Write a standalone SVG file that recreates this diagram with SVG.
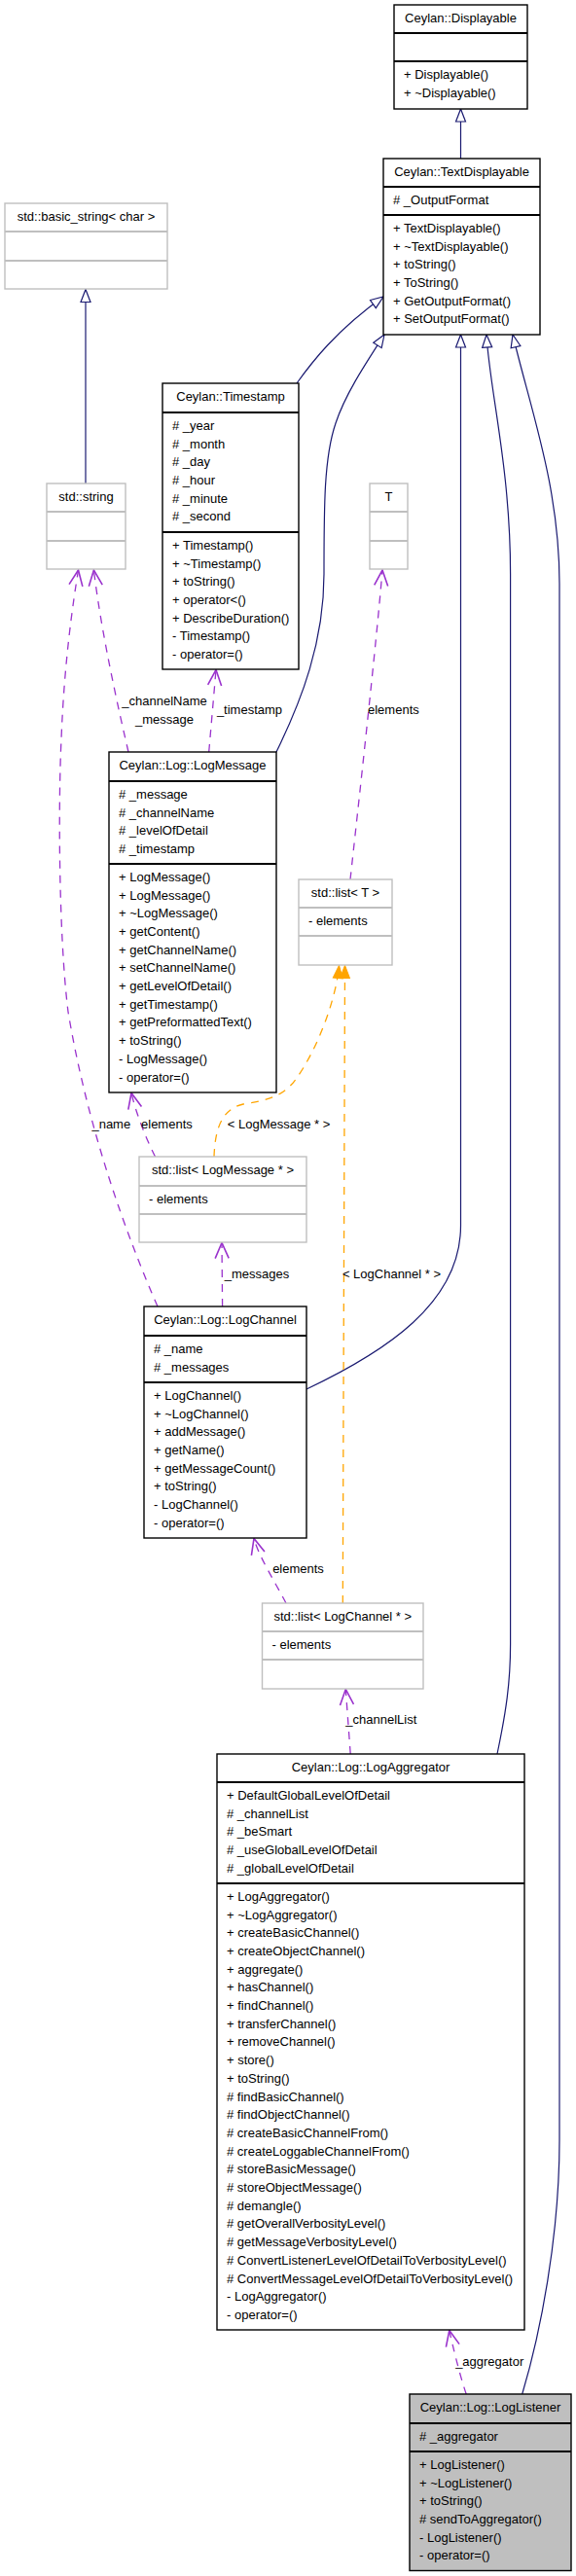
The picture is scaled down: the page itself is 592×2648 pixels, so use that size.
<svg xmlns="http://www.w3.org/2000/svg" width="592" height="2648" viewBox="0 0 592 2648">
<style>
text{font-family:"Liberation Sans",Arial,Helvetica,sans-serif;font-size:13px;fill:#000}
.t{text-anchor:middle}
.box{fill:#fff;stroke:#000;stroke-width:1.4}
.gbox{fill:#fff;stroke:#bfbfbf;stroke-width:1.4}
.fbox{fill:#bfbfbf;stroke:#000;stroke-width:1.4}
.dv{stroke:#000;stroke-width:1.8}
.gdv{stroke:#bfbfbf;stroke-width:1.8}
.inh{fill:none;stroke:#191970;stroke-width:1.2;marker-end:url(#tri)}
.use{fill:none;stroke:#9a32cd;stroke-width:1.3;stroke-dasharray:8,7;marker-end:url(#open)}
.tpl{fill:none;stroke:#ffa500;stroke-width:1.3;stroke-dasharray:8,7;marker-end:url(#filled)}
</style>
<defs>
<marker id="tri" markerUnits="userSpaceOnUse" markerWidth="16" markerHeight="14" refX="13" refY="6" orient="auto" overflow="visible"><path d="M0,1 L13,6 L0,11 Z" fill="#fff" stroke="#191970" stroke-width="1.2"/></marker>
<marker id="open" markerUnits="userSpaceOnUse" markerWidth="18" markerHeight="18" refX="16" refY="7" orient="auto" overflow="visible"><path d="M0,0 L16,7 L0,14" fill="none" stroke="#9a32cd" stroke-width="1.6"/></marker>
<marker id="filled" markerUnits="userSpaceOnUse" markerWidth="16" markerHeight="14" refX="13" refY="5" orient="auto" overflow="visible"><path d="M0,0 L13,5 L0,10 Z" fill="#ffa500" stroke="#ffa500" stroke-width="1"/></marker>
</defs>
<rect width="592" height="2648" fill="#fff"/>

<g id="connectors">
<path class="inh" d="M473.5,163 L473.5,112"/>
<path class="inh" d="M88,497 L88,297.5"/>
<path class="inh" d="M305,394 C320,373 345,340 394,305"/>
<path class="inh" d="M284,773 C310,720 333,660 333,590 C333,520 333,470 345,435 C355,405 375,375 395,344"/>
<path class="inh" d="M315,1428 C395,1390 473.5,1340 473.5,1260 L473.5,344"/>
<path class="inh" d="M511,1803 C520,1760 524.6,1730 524.6,1690 L524.6,590 C524.6,480 503,400 500,344"/>
<path class="inh" d="M536.7,2461 C555,2400 575,2300 575,2200 L575,600 C575,500 545,420 527,344"/>
<path class="use" d="M360,904 C367,840 387,660 393,586"/>
<path class="use" d="M132,773 C122,730 104,650 96.4,586"/>
<path class="use" d="M214.7,773 L222,688.5"/>
<path class="use" d="M162,1343 C130,1270 90,1160 70,1040 C60,960 60,820 63,760 C66,680 75,620 80.5,586"/>
<path class="use" d="M159.5,1189 C150,1170 140,1145 135,1123.5"/>
<path class="use" d="M228.6,1343 L228,1277.5"/>
<path class="use" d="M294,1648 C282,1625 266,1600 261,1581.5"/>
<path class="use" d="M360.2,1803 L355.3,1736.5"/>
<path class="use" d="M479.2,2461 C472,2440 465,2410 461.8,2395.5"/>
<path class="tpl" d="M220,1189 C221,1160 228,1140 250,1135 C275,1131 292,1127 305,1108 C325,1080 345,1030 348.5,992.5"/>
<path class="tpl" d="M352.3,1648 L354.5,992.5"/>
<text x="378" y="733.5">elements</text>
<text class="t" x="169" y="724.5">_channelName</text>
<text class="t" x="169" y="743.5">_message</text>
<text class="t" x="256.5" y="733.5">_timestamp</text>
<text class="t" x="114.3" y="1159.5">_name</text>
<text class="t" x="171.4" y="1159.5">elements</text>
<text class="t" x="286.5" y="1160">&lt; LogMessage * &gt;</text>
<text class="t" x="264" y="1313.5">_messages</text>
<text class="t" x="402.5" y="1313.5">&lt; LogChannel * &gt;</text>
<text class="t" x="306.5" y="1617">elements</text>
<text class="t" x="391.8" y="1771.8">_channelList</text>
<text class="t" x="503.2" y="2431.5">_aggregator</text>
</g>

<g id="node-Displayable">
<rect class="box" x="405" y="5" width="137" height="107"/>
<line class="dv" x1="405" y1="34" x2="542" y2="34"/>
<line class="dv" x1="405" y1="63" x2="542" y2="63"/>
<text class="t" x="473.5" y="22.5">Ceylan::Displayable</text>
<text x="415" y="80.8">+ Displayable()<tspan x="415" dy="18.7">+ ~Displayable()</tspan></text>
</g>

<g id="node-TextDisplayable">
<rect class="box" x="394" y="163" width="161" height="181"/>
<line class="dv" x1="394" y1="192" x2="555" y2="192"/>
<line class="dv" x1="394" y1="221" x2="555" y2="221"/>
<text class="t" x="474.5" y="180.5">Ceylan::TextDisplayable</text>
<text x="404" y="209.8"># _OutputFormat</text>
<text x="404" y="238.8">+ TextDisplayable()<tspan x="404" dy="18.7">+ ~TextDisplayable()</tspan><tspan x="404" dy="18.7">+ toString()</tspan><tspan x="404" dy="18.7">+ ToString()</tspan><tspan x="404" dy="18.7">+ GetOutputFormat()</tspan><tspan x="404" dy="18.7">+ SetOutputFormat()</tspan></text>
</g>

<g id="node-basic_string">
<rect class="gbox" x="5" y="209" width="167" height="88"/>
<line class="gdv" x1="5" y1="238" x2="172" y2="238"/>
<line class="gdv" x1="5" y1="268" x2="172" y2="268"/>
<text class="t" x="88.5" y="226.5">std::basic_string&lt; char &gt;</text>
</g>

<g id="node-string">
<rect class="gbox" x="48" y="497" width="81" height="88"/>
<line class="gdv" x1="48" y1="526" x2="129" y2="526"/>
<line class="gdv" x1="48" y1="556" x2="129" y2="556"/>
<text class="t" x="88.5" y="514.5">std::string</text>
</g>

<g id="node-T">
<rect class="gbox" x="380" y="497" width="39" height="88"/>
<line class="gdv" x1="380" y1="526" x2="419" y2="526"/>
<line class="gdv" x1="380" y1="556" x2="419" y2="556"/>
<text class="t" x="399.5" y="514.5">T</text>
</g>

<g id="node-Timestamp">
<rect class="box" x="167" y="394" width="140" height="294"/>
<line class="dv" x1="167" y1="424" x2="307" y2="424"/>
<line class="dv" x1="167" y1="547" x2="307" y2="547"/>
<text class="t" x="237" y="411.5">Ceylan::Timestamp</text>
<text x="177" y="441.8"># _year<tspan x="177" dy="18.7"># _month</tspan><tspan x="177" dy="18.7"># _day</tspan><tspan x="177" dy="18.7"># _hour</tspan><tspan x="177" dy="18.7"># _minute</tspan><tspan x="177" dy="18.7"># _second</tspan></text>
<text x="177" y="564.8">+ Timestamp()<tspan x="177" dy="18.7">+ ~Timestamp()</tspan><tspan x="177" dy="18.7">+ toString()</tspan><tspan x="177" dy="18.7">+ operator&lt;()</tspan><tspan x="177" dy="18.7">+ DescribeDuration()</tspan><tspan x="177" dy="18.7">- Timestamp()</tspan><tspan x="177" dy="18.7">- operator=()</tspan></text>
</g>

<g id="node-LogMessage">
<rect class="box" x="112" y="773" width="172" height="350"/>
<line class="dv" x1="112" y1="803" x2="284" y2="803"/>
<line class="dv" x1="112" y1="888" x2="284" y2="888"/>
<text class="t" x="198" y="790.5">Ceylan::Log::LogMessage</text>
<text x="122" y="820.8"># _message<tspan x="122" dy="18.7"># _channelName</tspan><tspan x="122" dy="18.7"># _levelOfDetail</tspan><tspan x="122" dy="18.7"># _timestamp</tspan></text>
<text x="122" y="905.8">+ LogMessage()<tspan x="122" dy="18.7">+ LogMessage()</tspan><tspan x="122" dy="18.7">+ ~LogMessage()</tspan><tspan x="122" dy="18.7">+ getContent()</tspan><tspan x="122" dy="18.7">+ getChannelName()</tspan><tspan x="122" dy="18.7">+ setChannelName()</tspan><tspan x="122" dy="18.7">+ getLevelOfDetail()</tspan><tspan x="122" dy="18.7">+ getTimestamp()</tspan><tspan x="122" dy="18.7">+ getPreformattedText()</tspan><tspan x="122" dy="18.7">+ toString()</tspan><tspan x="122" dy="18.7">- LogMessage()</tspan><tspan x="122" dy="18.7">- operator=()</tspan></text>
</g>

<g id="node-list_T">
<rect class="gbox" x="307" y="904" width="96" height="88"/>
<line class="gdv" x1="307" y1="933" x2="403" y2="933"/>
<line class="gdv" x1="307" y1="962" x2="403" y2="962"/>
<text class="t" x="355" y="921.5">std::list&lt; T &gt;</text>
<text x="317" y="950.8">- elements</text>
</g>

<g id="node-list_LogMessage">
<rect class="gbox" x="143" y="1189" width="172" height="88"/>
<line class="gdv" x1="143" y1="1219" x2="315" y2="1219"/>
<line class="gdv" x1="143" y1="1248" x2="315" y2="1248"/>
<text class="t" x="229" y="1206.5">std::list&lt; LogMessage * &gt;</text>
<text x="153" y="1236.8">- elements</text>
</g>

<g id="node-LogChannel">
<rect class="box" x="148" y="1343" width="167" height="238"/>
<line class="dv" x1="148" y1="1373" x2="315" y2="1373"/>
<line class="dv" x1="148" y1="1421" x2="315" y2="1421"/>
<text class="t" x="231.5" y="1360.5">Ceylan::Log::LogChannel</text>
<text x="158" y="1390.8"># _name<tspan x="158" dy="18.7"># _messages</tspan></text>
<text x="158" y="1438.8">+ LogChannel()<tspan x="158" dy="18.7">+ ~LogChannel()</tspan><tspan x="158" dy="18.7">+ addMessage()</tspan><tspan x="158" dy="18.7">+ getName()</tspan><tspan x="158" dy="18.7">+ getMessageCount()</tspan><tspan x="158" dy="18.7">+ toString()</tspan><tspan x="158" dy="18.7">- LogChannel()</tspan><tspan x="158" dy="18.7">- operator=()</tspan></text>
</g>

<g id="node-list_LogChannel">
<rect class="gbox" x="269.5" y="1648" width="165.5" height="88"/>
<line class="gdv" x1="269.5" y1="1677" x2="435" y2="1677"/>
<line class="gdv" x1="269.5" y1="1706" x2="435" y2="1706"/>
<text class="t" x="352.3" y="1665.5">std::list&lt; LogChannel * &gt;</text>
<text x="279.5" y="1694.8">- elements</text>
</g>

<g id="node-LogAggregator">
<rect class="box" x="223" y="1803" width="316" height="592"/>
<line class="dv" x1="223" y1="1832" x2="539" y2="1832"/>
<line class="dv" x1="223" y1="1936" x2="539" y2="1936"/>
<text class="t" x="381" y="1820.5">Ceylan::Log::LogAggregator</text>
<text x="233" y="1849.8">+ DefaultGlobalLevelOfDetail<tspan x="233" dy="18.7"># _channelList</tspan><tspan x="233" dy="18.7"># _beSmart</tspan><tspan x="233" dy="18.7"># _useGlobalLevelOfDetail</tspan><tspan x="233" dy="18.7"># _globalLevelOfDetail</tspan></text>
<text x="233" y="1953.8">+ LogAggregator()<tspan x="233" dy="18.7">+ ~LogAggregator()</tspan><tspan x="233" dy="18.7">+ createBasicChannel()</tspan><tspan x="233" dy="18.7">+ createObjectChannel()</tspan><tspan x="233" dy="18.7">+ aggregate()</tspan><tspan x="233" dy="18.7">+ hasChannel()</tspan><tspan x="233" dy="18.7">+ findChannel()</tspan><tspan x="233" dy="18.7">+ transferChannel()</tspan><tspan x="233" dy="18.7">+ removeChannel()</tspan><tspan x="233" dy="18.7">+ store()</tspan><tspan x="233" dy="18.7">+ toString()</tspan><tspan x="233" dy="18.7"># findBasicChannel()</tspan><tspan x="233" dy="18.7"># findObjectChannel()</tspan><tspan x="233" dy="18.7"># createBasicChannelFrom()</tspan><tspan x="233" dy="18.7"># createLoggableChannelFrom()</tspan><tspan x="233" dy="18.7"># storeBasicMessage()</tspan><tspan x="233" dy="18.7"># storeObjectMessage()</tspan><tspan x="233" dy="18.7"># demangle()</tspan><tspan x="233" dy="18.7"># getOverallVerbosityLevel()</tspan><tspan x="233" dy="18.7"># getMessageVerbosityLevel()</tspan><tspan x="233" dy="18.7"># ConvertListenerLevelOfDetailToVerbosityLevel()</tspan><tspan x="233" dy="18.7"># ConvertMessageLevelOfDetailToVerbosityLevel()</tspan><tspan x="233" dy="18.7">- LogAggregator()</tspan><tspan x="233" dy="18.7">- operator=()</tspan></text>
</g>

<g id="node-LogListener">
<rect class="fbox" x="421" y="2461" width="166" height="181.5"/>
<line class="dv" x1="421" y1="2491" x2="587" y2="2491"/>
<line class="dv" x1="421" y1="2520" x2="587" y2="2520"/>
<text class="t" x="504" y="2478.5">Ceylan::Log::LogListener</text>
<text x="431" y="2508.8"># _aggregator</text>
<text x="431" y="2537.8">+ LogListener()<tspan x="431" dy="18.7">+ ~LogListener()</tspan><tspan x="431" dy="18.7">+ toString()</tspan><tspan x="431" dy="18.7"># sendToAggregator()</tspan><tspan x="431" dy="18.7">- LogListener()</tspan><tspan x="431" dy="18.7">- operator=()</tspan></text>
</g>
</svg>
